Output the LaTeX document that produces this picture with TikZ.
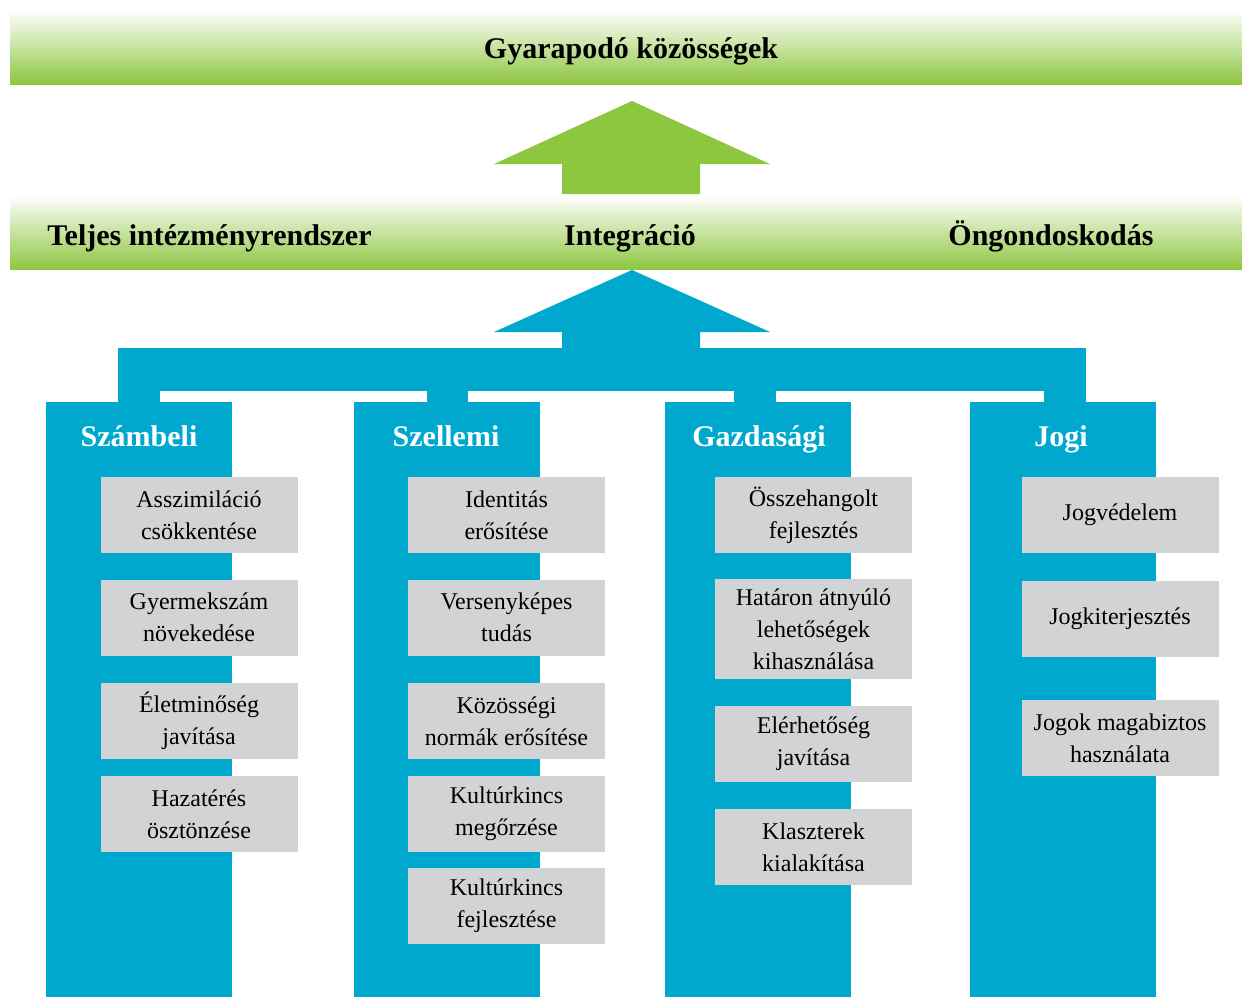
\documentclass[tikz,border=0pt]{standalone}
\usepackage{fontspec}
\setmainfont{Liberation Serif}
\usepackage{xcolor}
\definecolor{leafgreen}{HTML}{8DC63F}
\definecolor{pillarblue}{HTML}{00A8CE}
\definecolor{itemgrey}{HTML}{D1D3D4}

\begin{document}
\begin{tikzpicture}[x=1pt,y=-1pt,
  band/.style={minimum width=1232pt,minimum height=74pt,inner sep=0pt,top color=white,bottom color=leafgreen},
  bandtext/.style={font=\fontsize{30}{34}\bfseries\selectfont,text height=27pt,text depth=7pt,inner sep=0pt},
  pillar/.style={fill=pillarblue,minimum width=186pt,minimum height=595pt,inner sep=0pt},
  pillartitle/.style={text=white,font=\fontsize{30}{34}\bfseries\selectfont,text height=27pt,text depth=7pt,inner sep=0pt},
  item/.style={fill=itemgrey,minimum width=197pt,minimum height=76pt,inner sep=0pt,align=center,font=\fontsize{24}{32}\selectfont}]
\useasboundingbox (0,0) rectangle (1242,997);
% green bands
\node[band] (goal) at (626,47) {};
\node[band] (base) at (626,232.5) {};
\node[bandtext] (goaltext) at (631,48) {Gyarapodó közösségek};
\node[bandtext] (inst) at (209.5,235) {Teljes intézményrendszer};
\node[bandtext] (integ) at (630,235) {Integráció};
\node[bandtext] (self) at (1051,235) {Öngondoskodás};
\fill[leafgreen] (632,101) -- (770,164) -- (700,164) -- (700,194) -- (562,194) -- (562,164) -- (494,164) -- cycle;
% blue frame
\fill[pillarblue] (632,270) -- (770,332) -- (700,332) -- (700,349) -- (562,349) -- (562,332) -- (494,332) -- cycle;
\fill[pillarblue] (118,348) rectangle (1086,391);
\foreach \x/\w in {118/42,427/41,734/42,1044/42}
  \fill[pillarblue] (\x,390) rectangle ++(\w,13);
\node[pillar] (szam) at (139,699.5) {};
\node[pillar] (szel) at (447,699.5) {};
\node[pillar] (gazd) at (757.5,699.5) {};
\node[pillar] (jogi) at (1062.5,699.5) {};
\node[pillartitle] at (139,436) {Számbeli};
\node[pillartitle] at (446,436) {Szellemi};
\node[pillartitle] at (759,436) {Gazdasági};
\node[pillartitle] at (1061,436) {Jogi};
% items
\node[item] (szam1) at (199,515) {Asszimiláció\\csökkentése};
\node[item] (szam2) at (199,617.5) {Gyermekszám\\növekedése};
\node[item] (szam3) at (199,721) {Életminőség\\javítása};
\node[item] (szam4) at (199,814) {Hazatérés\\ösztönzése};
\node[item] (szel1) at (506.5,515) {Identitás\\erősítése};
\node[item] (szel2) at (506.5,617.5) {Versenyképes\\tudás};
\node[item] (szel3) at (506.5,721) {Közösségi\\normák erősítése};
\node[item] (szel4) at (506.5,814) {Kultúrkincs\\megőrzése};
\node[item] (szel5) at (506.5,905.5) {Kultúrkincs\\fejlesztése};
\node[item] (gazd1) at (813.5,515) {Összehangolt\\fejlesztés};
\node[item,minimum height=100pt] (gazd2) at (813.5,629) {Határon átnyúló\\lehetőségek\\kihasználása};
\node[item] (gazd3) at (813.5,744) {Elérhetőség\\javítása};
\node[item] (gazd4) at (813.5,847) {Klaszterek\\kialakítása};
\node[item] (jogi1) at (1120,515) {Jogvédelem};
\node[item] (jogi2) at (1120,619) {Jogkiterjesztés};
\node[item] (jogi3) at (1120,738) {Jogok magabiztos\\használata};
\end{tikzpicture}
\end{document}
